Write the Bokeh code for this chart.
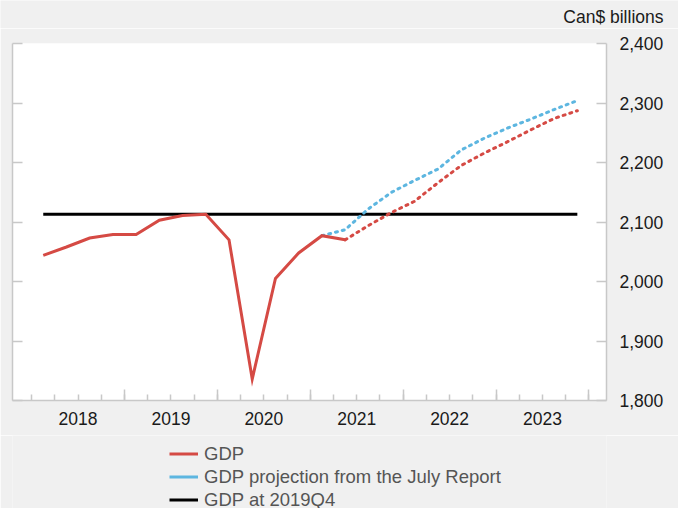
from bokeh.plotting import figure
from bokeh.layouts import column
from bokeh.models import (LinearAxis, FixedTicker, Range1d, Legend, LegendItem,
                          CustomJSTickFormatter, NumeralTickFormatter, Label, PlainText)
from bokeh.embed import file_html
from bokeh.resources import INLINE

# ---------------- data ----------------
quarters = ["2018Q1", "2018Q2", "2018Q3", "2018Q4",
            "2019Q1", "2019Q2", "2019Q3", "2019Q4",
            "2020Q1", "2020Q2", "2020Q3", "2020Q4",
            "2021Q1", "2021Q2", "2021Q3", "2021Q4",
            "2022Q1", "2022Q2", "2022Q3", "2022Q4",
            "2023Q1", "2023Q2", "2023Q3", "2023Q4"]

# GDP, actual (2018Q1 - 2021Q2)
gdp_actual = [2044, 2058, 2073, 2079, 2079, 2103, 2111, 2113,
              2070, 1836, 2005, 2048, 2077, 2070]
# GDP, current projection (2021Q2 - 2023Q4)
gdp_projection = [2070, 2094, 2116, 2135, 2166, 2195, 2216, 2235, 2255, 2274, 2287]
# GDP projection from the July Report (2021Q1 - 2023Q4)
july_projection = [2077, 2087, 2122, 2150, 2170, 2189, 2221, 2241, 2258, 2273, 2289, 2304]
# GDP level at 2019Q4
gdp_2019q4 = 2113

years = [2018, 2019, 2020, 2021, 2022, 2023]
y_ticks = [1800, 1900, 2000, 2100, 2200, 2300, 2400]
series_labels = ["GDP", "GDP projection from the July Report", "GDP at 2019Q4"]
unit_label = "Can$ billions"

# ---------------- styles ----------------
FONT = "Liberation Sans"
RED = "#D54A44"
BLUE = "#5DB6E0"
BLACK = "#000000"
AXIS = "#c8c8c8"
BG = "#f0f0f0"
TICK_FS = "17.5px"
LEG_FS = "18.5px"


def qpos(label):
    return int(label[:4]) + (int(label[5]) - 0.5) / 4.0


xq = [qpos(q) for q in quarters]
x_actual = xq[:len(gdp_actual)]
x_proj = xq[len(xq) - len(gdp_projection):]
x_july = xq[len(xq) - len(july_projection):]
x_base = [xq[0], xq[-1]]
y_base = [gdp_2019q4, gdp_2019q4]


def strip(height, align=True):
    f = figure(width=678, height=height, output_backend="svg", toolbar_location=None,
               x_range=Range1d(0, 1), y_range=Range1d(0, 1),
               x_axis_location=None, y_axis_location=None,
               min_border_left=0, min_border_right=0, min_border_top=0,
               min_border_bottom=0, frame_align=align)
    f.background_fill_color = BG
    f.border_fill_color = BG
    f.outline_line_color = None
    f.grid.visible = False
    return f


# ---------------- top strip with the unit label ----------------
top = strip(28, align=False)
top.add_layout(Label(x=663, y=11.5, x_units="screen", y_units="screen",
                     text=PlainText(text=unit_label),
                     text_align="right", text_baseline="middle",
                     text_font=FONT, text_font_size=TICK_FS,
                     text_color="#1a1a1a"))

# ---------------- main chart ----------------
p = figure(width=678, height=407,
           x_range=Range1d(2017.794, 2024.189), y_range=Range1d(1800, 2400),
           output_backend="svg", toolbar_location=None,
           x_axis_location=None, y_axis_location=None,
           min_border_left=12, min_border_right=72, min_border_top=15,
           min_border_bottom=35)
p.background_fill_color = "white"
p.border_fill_color = BG
p.outline_line_color = None
p.grid.visible = False

# right y axis (labels)
yr = LinearAxis(ticker=FixedTicker(ticks=y_ticks),
                formatter=NumeralTickFormatter(format="0,0"),
                major_tick_in=10, major_tick_out=0,
                minor_tick_line_color=None,
                axis_line_color=AXIS, axis_line_width=1.5,
                major_tick_line_color=AXIS, major_tick_line_width=1.5,
                major_label_standoff=13,
                major_label_text_font=FONT, major_label_text_font_size=TICK_FS,
                major_label_text_color="#1a1a1a")
p.add_layout(yr, "right")

# left y axis (ticks only)
yl = LinearAxis(ticker=FixedTicker(ticks=y_ticks),
                formatter=CustomJSTickFormatter(code="return '';"),
                major_tick_in=10, major_tick_out=0,
                minor_tick_line_color=None,
                axis_line_color=AXIS, axis_line_width=1.5,
                major_tick_line_color=AXIS, major_tick_line_width=1.5,
                major_label_standoff=0, major_label_text_font_size="0px")
p.add_layout(yl, "left")

# bottom axis: year (long) and quarter (short) tick marks
year_bounds = [y + 1 for y in years]
quarter_bounds = [y + k / 4.0 for y in years for k in range(4)] + [years[-1] + 1]
xa = LinearAxis(ticker=FixedTicker(ticks=year_bounds, minor_ticks=quarter_bounds),
                formatter=CustomJSTickFormatter(code="return '';"),
                major_tick_in=11, major_tick_out=0,
                minor_tick_in=6, minor_tick_out=0,
                axis_line_color=AXIS, axis_line_width=1.5,
                major_tick_line_color=AXIS, major_tick_line_width=1.5,
                minor_tick_line_color=AXIS, minor_tick_line_width=1.5,
                major_label_standoff=0, major_label_text_font_size="0px")
p.add_layout(xa, "below")

# bottom axis: year labels centred on each year
xb = LinearAxis(ticker=FixedTicker(ticks=[y + 0.5 for y in years]),
                formatter=CustomJSTickFormatter(code="return Math.floor(tick).toString();"),
                major_tick_line_color=None, minor_tick_line_color=None,
                axis_line_color=None,
                major_label_standoff=5,
                major_label_text_font=FONT, major_label_text_font_size=TICK_FS,
                major_label_text_color="#1a1a1a")
p.add_layout(xb, "below")

# ---------------- lines ----------------
p.line(x_base, y_base, line_color=BLACK, line_width=3)
p.line(x_july, july_projection, line_color=BLUE, line_width=3,
       line_dash="2 5", line_cap="round")
p.line(x_proj, gdp_projection, line_color=RED, line_width=3,
       line_dash="2 5", line_cap="round")
p.line(x_actual, gdp_actual, line_color=RED, line_width=3, line_join="miter")

# ---------------- legend (separate strip below the chart) ----------------
# the series are re-drawn here (solid, outside the visible range) only to
# provide the legend keys
lg = strip(73)
k_act = lg.line(x_actual, gdp_actual, line_color=RED, line_width=3)
k_july = lg.line(x_july, july_projection, line_color=BLUE, line_width=3)
k_base = lg.line(x_base, y_base, line_color=BLACK, line_width=3)

items = [LegendItem(label=lab, renderers=[r])
         for lab, r in zip(series_labels, [k_act, k_july, k_base])]

legend = Legend(items=items, location=(157, -3), orientation="vertical",
                glyph_width=29, glyph_height=23, label_height=23,
                spacing=0, padding=0, margin=0, label_standoff=6,
                label_text_font=FONT, label_text_font_size=LEG_FS,
                label_text_color="#555555",
                background_fill_alpha=0, border_line_color=None)
lg.add_layout(legend, "center")

layout = column(top, p, lg, spacing=0)
open("out.html", "w").write(file_html(layout, INLINE))
